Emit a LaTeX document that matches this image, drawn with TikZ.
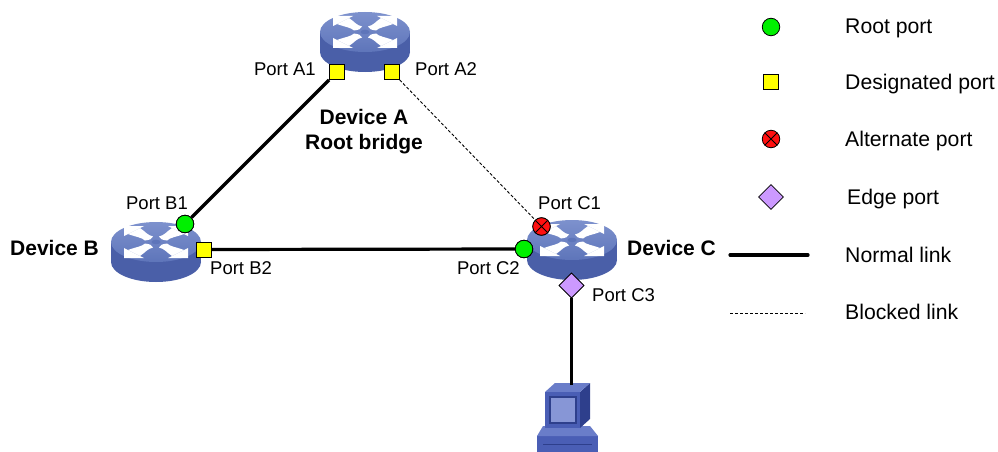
\documentclass[tikz,border=0pt]{standalone}
\usepackage{fontspec}
\setmainfont{Liberation Sans}
\usetikzlibrary{shapes.geometric}

\definecolor{routertopa}{HTML}{7D91CD}
\definecolor{routertopb}{HTML}{5E75BA}
\definecolor{routerside}{HTML}{4A5FA8}
\definecolor{pcfront}{HTML}{4A5EB5}
\definecolor{pctop}{HTML}{6A7DC9}
\definecolor{pcside}{HTML}{2E3F8C}
\definecolor{pcscreen}{HTML}{8796D6}
\definecolor{rootgreen}{HTML}{00F000}
\definecolor{desyellow}{HTML}{FFFF00}
\definecolor{altred}{HTML}{FF1010}
\definecolor{edgeviolet}{HTML}{CC99FF}

\tikzset{
  lbl/.style={inner sep=0pt, font=\fontsize{18.5}{22}\selectfont},
  devlbl/.style={inner sep=0pt, font=\fontsize{21}{24}\selectfont\bfseries},
  leglbl/.style={inner sep=0pt, anchor=base west, font=\fontsize{21.2}{24}\selectfont},
  rootport/.style={circle, draw=black, line width=0.8pt, fill=rootgreen, minimum size=17.5pt, inner sep=0pt},
  desport/.style={rectangle, draw=black, line width=0.8pt, fill=desyellow, minimum size=15pt, inner sep=0pt},
  altport/.style={circle, draw=black, line width=0.8pt, fill=altred, minimum size=17.5pt, inner sep=0pt,
    path picture={\draw[line width=0.8pt] (path picture bounding box.north west) -- (path picture bounding box.south east)
      (path picture bounding box.north east) -- (path picture bounding box.south west);}},
  edgeport/.style={diamond, draw=black, line width=0.8pt, fill=edgeviolet, minimum size=25pt, inner sep=0pt},
  normallink/.style={line width=3.2pt, black},
  blockedlink/.style={line width=0.9pt, black, dash pattern=on 3pt off 2pt},
  devbox/.style={inner sep=0pt, minimum width=90pt, minimum height=60pt},
  % switch icon: blue cylinder with a white four-arrow pinwheel on top;
  % the origin is the centre of the top face
  router/.pic={
    \fill[routerside] (0,20) ellipse [x radius=45, y radius=20];
    \fill[routerside] (-45,0) rectangle (45,20);
    \shade[top color=routertopa, bottom color=routertopb] (0,0) ellipse [x radius=45, y radius=20];
    \begin{scope}[yscale=0.5]
      \foreach \a in {0,90,180,270}{
        \begin{scope}[rotate=\a]
          \fill[white] (32,32) -- (12,32) -- (32,12) -- cycle;
          \fill[white] (16,28) .. controls (10,20) and (9,14) .. (3,11)
                       .. controls (5,5) .. (11,3)
                       .. controls (14,9) and (20,10) .. (28,16) -- cycle;
        \end{scope}
      }
      \fill[routertopb] (0,0) circle (4.5);
    \end{scope}
  }
}

\begin{document}
\begin{tikzpicture}[x=1pt, y=-1pt]
  \useasboundingbox (0,0) rectangle (998,452);

  % devices
  \node[devbox] (devA) at (365,42) {};
  \node[devbox] (devB) at (156,252) {};
  \node[devbox] (devC) at (572,250) {};
  \pic at ([yshift=10pt]devA.center) {router};
  \pic at ([yshift=10pt]devB.center) {router};
  \pic at ([yshift=10pt]devC.center) {router};

  % host computer
  \node[inner sep=0pt, minimum width=62pt, minimum height=68pt] (pc) at (568,418) {};
  \fill[pcfront] (537,436) -- (598,436) -- (598,452) -- (537,452) -- cycle;
  \fill[pctop] (543,426) -- (590,426) -- (598,436) -- (537,436) -- cycle;
  \fill[pcside] (580,392) -- (590,383) -- (590,419) -- (580,428) -- cycle;
  \fill[pctop] (545,392) -- (555,383) -- (590,383) -- (580,392) -- cycle;
  \fill[pcfront] (545,392) rectangle (580,428);
  \fill[pcside] (549,396) rectangle (577,424);
  \fill[pcscreen] (551,398) rectangle (575,422);
  \draw[pcside, line width=0.6pt] (543,444) -- (592,444);

  % port markers
  \node[desport] (A1) at (337,72) {};
  \node[desport] (A2) at (392,72) {};
  \node[rootport] (B1) at (185,224) {};
  \node[desport] (B2) at (204,249.5) {};
  \node[altport] (C1) at (541.5,226.5) {};
  \node[rootport] (C2) at (524,249) {};
  \node[edgeport] (C3) at (571.5,285.5) {};

  % links
  \draw[normallink] (A1) -- (B1);
  \draw[normallink] (B2) -- (C2);
  \draw[blockedlink] (A2) -- (C1);
  \coordinate (pcin) at (571.5,385);
  \draw[normallink] (C3) -- (pcin);

  % markers stay above the link ends
  \node[desport] at (A1) {};
  \node[desport] at (A2) {};
  \node[rootport] at (B1) {};
  \node[desport] at (B2) {};
  \node[altport] at (C1) {};
  \node[rootport] at (C2) {};
  \node[edgeport] at (C3) {};

  % labels
  \node[lbl, anchor=base east] (lA1) at (316,75.7) {Port A1};
  \node[lbl, anchor=base west] (lA2) at (415,75.7) {Port A2};
  \node[devlbl, anchor=base] (lDA) at (364,124.5) {Device A};
  \node[devlbl, anchor=base] (lRB) at (364,149.5) {Root bridge};
  \node[lbl, anchor=base] (lB1) at (157,209.7) {Port B1};
  \node[devlbl, anchor=base west] (lDB) at (10,255.5) {Device B};
  \node[lbl, anchor=base west] (lB2) at (210,274.7) {Port B2};
  \node[lbl, anchor=base west] (lC1) at (538,209.7) {Port C1};
  \node[lbl, anchor=base east] (lC2) at (520,274.7) {Port C2};
  \node[devlbl, anchor=base west] (lDC) at (627,255.5) {Device C};
  \node[lbl, anchor=base west] (lC3) at (592,301.7) {Port C3};

  % legend
  \node[rootport] (kR) at (771,27) {};
  \node[leglbl] (tR) at (845,33.5) {Root port};
  \node[desport] (kD) at (771,82) {};
  \node[leglbl] (tD) at (845,89.5) {Designated port};
  \node[altport] (kA) at (771,139) {};
  \node[leglbl] (tA) at (845,146.5) {Alternate port};
  \node[edgeport] (kE) at (771,197) {};
  \node[leglbl] (tE) at (847,204.5) {Edge port};
  \coordinate (kN1) at (730,255);
  \coordinate (kN2) at (808,255);
  \draw[normallink, line cap=round] (kN1) -- (kN2);
  \node[leglbl] (tN) at (845,262) {Normal link};
  \coordinate (kB1) at (730,313);
  \coordinate (kB2) at (805,313);
  \draw[blockedlink] (kB1) -- (kB2);
  \node[leglbl] (tB) at (845,319) {Blocked link};
\end{tikzpicture}
\end{document}
